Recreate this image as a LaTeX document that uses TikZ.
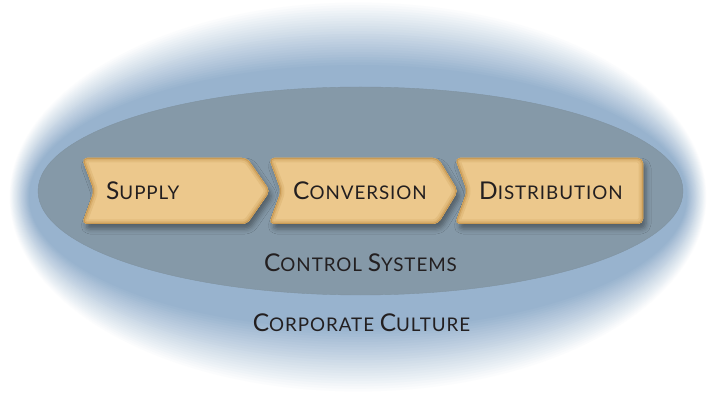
\documentclass[tikz,border=0pt]{standalone}
\usepackage{fontspec}
\setmainfont{Lato}[LetterSpace=5]
\usetikzlibrary{shadows.blur}

\definecolor{halo}{HTML}{98B3CE}
\definecolor{core}{HTML}{8599A8}
\definecolor{stagefill}{HTML}{ECC88C}
\definecolor{stageedge}{HTML}{C99B55}
\definecolor{ink}{HTML}{231F20}

% hand-made small caps: a larger first letter
\newcommand{\capinit}[1]{{\fontsize{24.5}{28}\selectfont #1}}

\tikzset{
	stage/.style={rounded corners=5pt},
	stagetext/.style={text=ink, inner sep=0pt, anchor=base west, font=\fontsize{18.8}{22}\selectfont},
	ringtext/.style={text=ink, inner sep=0pt, anchor=base, font=\fontsize{18.8}{22}\selectfont},
}

\begin{document}
\begin{tikzpicture}[x=1pt,y=-1pt]
	\useasboundingbox (0,0) rectangle (709,395);

	% outer ring, fading out to white
	\foreach \i [evaluate=\i as \p using int(4*\i)] in {0,...,25}
		\fill[halo!\p!white] (358,197) ellipse [x radius=349-0.8*\i, y radius=197-2.6*\i];

	% inner ring
	\fill[core, draw=core!96!black, line width=0.4pt] (360.5,191) ellipse [x radius=322.5, y radius=104];

	% the three stages
	\foreach \l/\r/\t/\nm/\txt in {82/247/270/supply/{\capinit{S}UPPLY},
			269/438/458/conversion/{\capinit{C}ONVERSION},
			455/643/643/distribution/{\capinit{D}ISTRIBUTION}} {
		\def\stagepath{(\l,158) -- (\r,158) -- (\t,191) -- (\r,224) -- (\l,224) -- (\l+12,191) -- cycle}
		\path[stage, fill=stageedge, blur shadow={shadow xshift=3pt, shadow yshift=-5pt, shadow blur radius=5pt, shadow opacity=38}] \stagepath;
		\begin{scope}
			\clip[stage] \stagepath;
			\fill[stagefill] \stagepath;
			\draw[stage, stagefill!75!stageedge, line width=9pt] \stagepath;
			\draw[stage, stagefill!45!stageedge, line width=5pt] \stagepath;
			\draw[stage, stageedge, line width=2pt] \stagepath;
		\end{scope}
		\node[stagetext] (\nm) at (\l+24,200) {\txt};
	}

	\node[ringtext] (control) at (360.5,272) {\capinit{C}ONTROL \capinit{S}YSTEMS};
	\node[ringtext] (culture) at (361.5,331) {\capinit{C}ORPORATE \capinit{C}ULTURE};
\end{tikzpicture}
\end{document}
